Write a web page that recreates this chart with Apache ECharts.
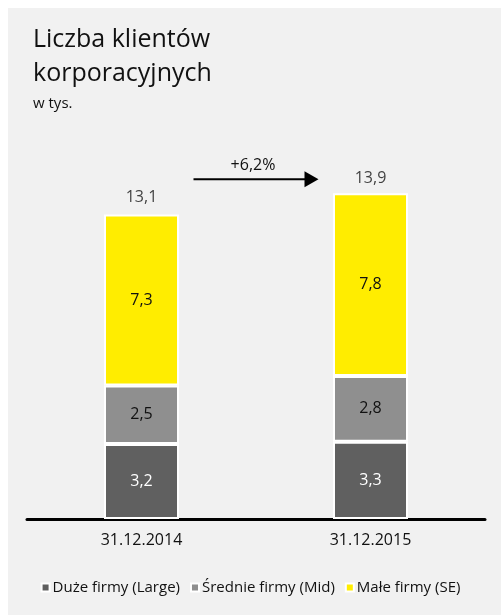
<!DOCTYPE html>
<html lang="pl">
<head>
    <meta charset="utf-8">
    <title>Liczba klientów korporacyjnych</title>
    <script src="https://cdn.jsdelivr.net/npm/echarts@6/dist/echarts.min.js"></script>
    <style>
        html, body { margin: 0; padding: 0; background: #fff; }
        #chart { width: 501px; height: 615px; }
    </style>
</head>
<body>
<div id="chart"></div>
<script type="text/javascript">
    var categories = ['31.12.2014', '31.12.2015'];
    var seriesNames = ['Duże firmy (Large)', 'Średnie firmy (Mid)', 'Małe firmy (SE)'];
    var largeValues = [3.2, 3.3];
    var midValues = [2.5, 2.8];
    var smallValues = [7.3, 7.8];
    var totals = [13.1, 13.9];
    var growthLabel = '+6,2%';

    var fontFamily = '"Open Sans", "Noto Sans", sans-serif';

    function fmt(v) {
        return String(v).replace('.', ',');
    }

    function barSeries(name, data, color, textColor) {
        return {
            name: name,
            type: 'bar',
            stack: 'total',
            barWidth: 75,
            data: data,
            itemStyle: { color: color, borderColor: '#ffffff', borderWidth: 2 },
            label: {
                show: true,
                position: 'inside',
                color: textColor,
                fontSize: 16,
                fontFamily: fontFamily,
                formatter: function (p) { return fmt(p.value); }
            }
        };
    }

    var titleGraphics = [
        { type: 'rect', z: -10, shape: { x: 8, y: 8, width: 493, height: 607 }, style: { fill: '#f1f1f1' } },
        { type: 'text', left: 33, top: 27, style: { text: 'Liczba klientów', fontSize: 25, fontFamily: fontFamily, fill: '#111' } },
        { type: 'text', left: 33, top: 61, style: { text: 'korporacyjnych', fontSize: 25, fontFamily: fontFamily, fill: '#111' } },
        { type: 'text', left: 33, top: 96, style: { text: 'w tys.', fontSize: 15, fontFamily: fontFamily, fill: '#111' } }
    ];

    var myChart = echarts.init(document.getElementById('chart'));

    var option = {
        backgroundColor: '#ffffff',
        animation: false,
        graphic: titleGraphics,
        grid: {
            left: 27,
            right: 16,
            top: 150,
            bottom: 96
        },
        legend: {
            data: seriesNames,
            bottom: 15,
            left: 'center',
            icon: 'rect',
            itemWidth: 8,
            itemHeight: 8,
            itemGap: 10,
            textStyle: { fontSize: 15, fontFamily: fontFamily, color: '#111', padding: [0, 0, 0, -2] }
        },
        xAxis: {
            type: 'category',
            data: categories,
            axisLine: { lineStyle: { color: '#000', width: 3 } },
            axisTick: { show: false },
            axisLabel: { fontSize: 16, fontFamily: fontFamily, color: '#111', margin: 13 }
        },
        yAxis: {
            type: 'value',
            min: 0,
            max: 15.75,
            show: false,
            splitLine: { show: false }
        },
        series: [
            barSeries(seriesNames[0], largeValues, '#606060', '#ffffff'),
            barSeries(seriesNames[1], midValues, '#8f8f8f', '#111111'),
            barSeries(seriesNames[2], smallValues, '#ffed00', '#111111'),
            {
                name: 'Razem',
                type: 'scatter',
                symbolSize: 0,
                data: totals,
                label: {
                    show: true,
                    position: 'top',
                    distance: 7,
                    color: '#111',
                    fontSize: 16,
                    fontFamily: fontFamily,
                    formatter: function (p) { return fmt(p.value); }
                }
            }
        ]
    };

    myChart.setOption(option);

    // strzałka wzrostu między słupkami
    var p1 = myChart.convertToPixel({ seriesIndex: 0 }, [0, 14.5]);
    var p2 = myChart.convertToPixel({ seriesIndex: 0 }, [1, 14.5]);
    var x1 = p1[0] + 52, x2 = p2[0] - 52, y = p1[1];
    myChart.setOption({
        graphic: titleGraphics.concat([
            { type: 'line', shape: { x1: x1, y1: y, x2: x2 - 12, y2: y }, style: { stroke: '#000', lineWidth: 2 } },
            { type: 'polygon', shape: { points: [[x2 - 14, y - 8], [x2, y], [x2 - 14, y + 8]] }, style: { fill: '#000' } },
            { type: 'text', x: (x1 + x2) / 2 - 3, y: y - 22, style: { text: growthLabel, fontSize: 16, fontFamily: fontFamily, fill: '#111', align: 'center' } }
        ])
    });
</script>
</body>
</html>
